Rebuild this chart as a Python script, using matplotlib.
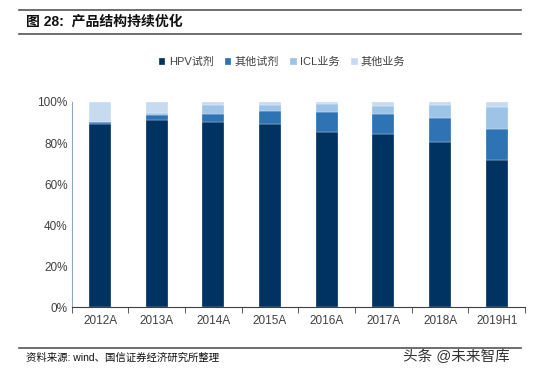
import matplotlib.pyplot as plt
from matplotlib.lines import Line2D
from matplotlib.ticker import FuncFormatter
import numpy as np

plt.rcParams['font.family'] = ['Liberation Sans', 'Noto Sans CJK SC']

years = ['2012A', '2013A', '2014A', '2015A', '2016A', '2017A', '2018A', '2019H1']
hpv = [89.3, 91.1, 90.4, 89.1, 85.6, 84.3, 80.7, 71.6]
other_reagent = [0.8, 2.4, 3.9, 6.4, 9.7, 9.7, 11.4, 15.1]
icl = [0.3, 1.3, 4.1, 3.2, 3.6, 4.1, 6.4, 11.0]
other_biz = [9.6, 5.2, 1.6, 1.3, 1.1, 1.9, 1.5, 2.3]

series = [hpv, other_reagent, icl, other_biz]
names = ['HPV试剂', '其他试剂', 'ICL业务', '其他业务']
colors = ['#003362', '#2E74B5', '#9DC3E6', '#C6DBF0']

fig = plt.figure(figsize=(5.48, 3.75), dpi=100)
ax = fig.add_axes([0.131, 0.181, 0.827, 0.547])

x = np.arange(len(years))
bottom = np.zeros(len(years))
for vals, name, c in zip(series, names, colors):
    v = np.array(vals) / 100
    ax.bar(x, v, 0.39, bottom=bottom, color=c, label=name, edgecolor='white', linewidth=0.2)
    bottom += v

ax.set_xlim(-0.5, len(years) - 0.5)
ax.set_ylim(0, 1)
ax.set_yticks(np.arange(0, 1.01, 0.2))
ax.yaxis.set_major_formatter(FuncFormatter(lambda v, p: f'{v*100:.0f}%'))
ax.set_xticks(x)
ax.set_xticklabels(years)
ax.set_xticks(np.arange(-0.5, len(years)), minor=True)
ax.tick_params(axis='x', which='major', length=0, pad=6, labelsize=8.5, colors='#404040')
ax.tick_params(axis='x', which='minor', length=4, color='#404040')
ax.tick_params(axis='y', length=0, labelsize=8.5, colors='#404040', pad=3)
for s in ['top', 'right']:
    ax.spines[s].set_visible(False)
ax.spines['left'].set_color('#8EA9C8')
ax.spines['bottom'].set_color('#404040')

ax.legend(loc='center', bbox_to_anchor=(0.464, 1.196), ncol=4, frameon=False,
          fontsize=8, handlelength=0.6, handleheight=0.6, handletextpad=0.3,
          columnspacing=1.0, labelcolor='#404040')

# title and frame lines
fig.add_artist(Line2D([0.035, 0.95], [1 - 10/375, 1 - 10/375], color='#555555', lw=1.2))
fig.add_artist(Line2D([0.035, 0.95], [1 - 34/375, 1 - 34/375], color='#555555', lw=1.2))
fig.text(0.048, 1 - 22/375, '图 28:  产品结构持续优化', fontsize=10, fontweight='bold',
         va='center', ha='left', color='#111111')
fig.add_artist(Line2D([0.035, 0.95], [1 - 348/375, 1 - 348/375], color='#555555', lw=1.2))
fig.text(0.048, 1 - 358/375, '资料来源: wind、国信证券经济研究所整理', fontsize=7.5,
         va='center', ha='left', color='#111111')
fig.text(0.93, 1 - 357/375, '头条 @未来智库', fontsize=10.5, va='center', ha='right',
         color='#333333')

fig.savefig('out.png', dpi=100)
